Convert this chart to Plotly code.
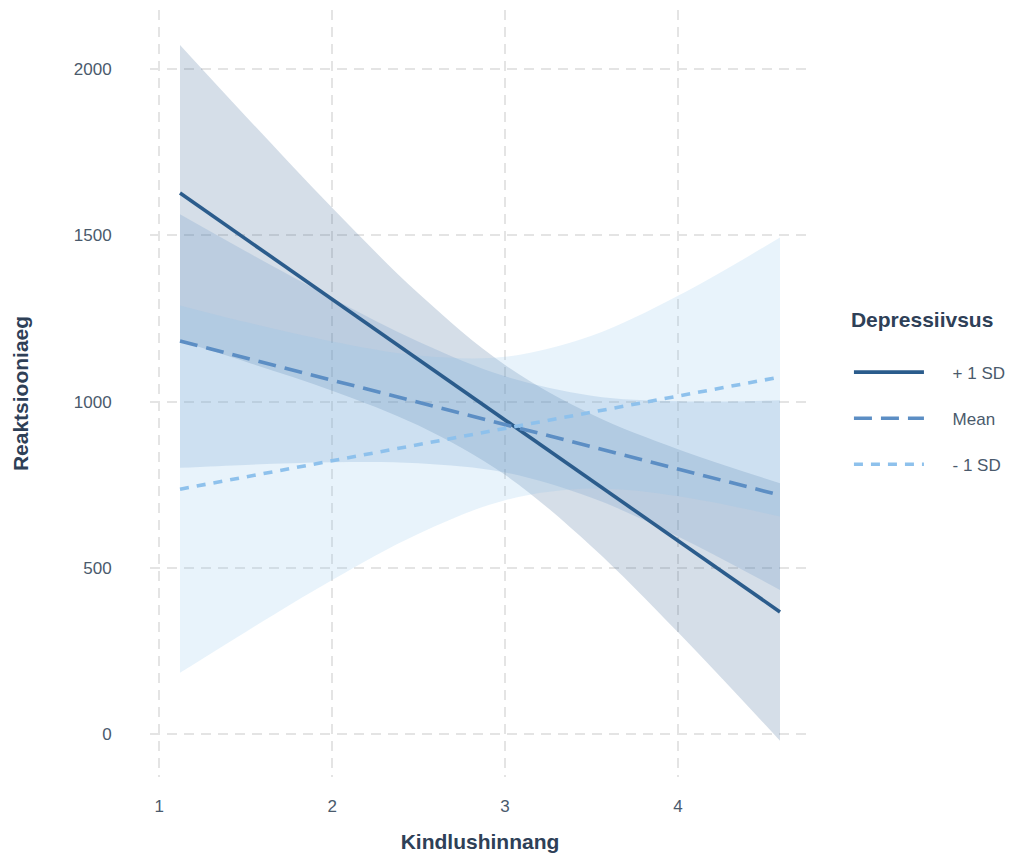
import plotly.graph_objects as go

# Data
x_vals = [1.12, 1.5, 2.0, 2.5, 3.0, 3.5, 4.0, 4.59]

plus_fit = [1627, 1489, 1308, 1126, 945, 764, 582, 368]
plus_lo = [1182, 1120, 1033, 928, 780, 565, 307, -19]
plus_hi = [2072, 1858, 1583, 1325, 1110, 962, 857, 755]

mean_fit = [1182, 1131, 1065, 998, 931, 865, 798, 719]
mean_lo = [801, 810, 818, 815, 787, 711, 595, 434]
mean_hi = [1563, 1452, 1311, 1180, 1076, 1018, 1001, 1004]

minus_fit = [737, 774, 823, 871, 920, 968, 1017, 1074]
minus_lo = [185, 308, 464, 603, 704, 739, 716, 655]
minus_hi = [1289, 1239, 1181, 1139, 1135, 1198, 1318, 1493]

series_names = ["+ 1 SD", "Mean", "- 1 SD"]
x_ticks = [1, 2, 3, 4]
y_ticks = [0, 500, 1000, 1500, 2000]

colors = ["#2B5C8C", "#5C8EC4", "#8EC1EC"]
fills = ["rgba(43,92,140,0.2)", "rgba(92,142,196,0.2)", "rgba(142,193,236,0.2)"]
dashes = ["solid", "18px,9px", "9px,8px"]

fits = [plus_fit, mean_fit, minus_fit]
los = [plus_lo, mean_lo, minus_lo]
his = [plus_hi, mean_hi, minus_hi]

FONT = "Liberation Sans, Arial, sans-serif"
TICK_C = "#4A5A6C"
TITLE_C = "#2E4057"
PAD = "\u00a0" * 5

fig = go.Figure()

for i in range(3):
    fig.add_trace(go.Scatter(
        x=x_vals, y=los[i], mode="lines",
        line=dict(width=0, shape="spline", color=fills[i]),
        showlegend=False, hoverinfo="skip"))
    fig.add_trace(go.Scatter(
        x=x_vals, y=his[i], mode="lines", fill="tonexty",
        fillcolor=fills[i],
        line=dict(width=0, shape="spline", color=fills[i]),
        showlegend=False, hoverinfo="skip"))

for i in range(3):
    fig.add_trace(go.Scatter(
        x=x_vals, y=fits[i], mode="lines", name=PAD + series_names[i],
        legendgroup=series_names[i],
        line=dict(color=colors[i], width=3.6, dash=dashes[i])))

fig.update_layout(
    width=1007, height=848,
    margin=dict(l=142, r=205, t=2, b=79),
    plot_bgcolor="white", paper_bgcolor="white",
    font=dict(family=FONT, color=TICK_C, size=17),
    showlegend=True,
    legend=dict(
        x=1.059, xanchor="left", y=0.622, yanchor="top",
        title=dict(text="<b>Depressiivsus</b><br> ",
                   font=dict(size=21, color=TITLE_C, family=FONT)),
        font=dict(size=17, color=TICK_C, family=FONT),
        tracegroupgap=21, itemwidth=70,
        bgcolor="rgba(0,0,0,0)"),
)

fig.update_xaxes(
    range=[0.9465, 4.7635], tickvals=x_ticks,
    ticks="outside", ticklen=14, tickcolor="rgba(0,0,0,0)",
    tickfont=dict(size=17, color=TICK_C),
    showgrid=True, gridcolor="#E4E4E4", gridwidth=1.6, griddash="10px,7px",
    zeroline=False, showline=False,
    title=dict(text="<b>Kindlushinnang</b>", standoff=18,
               font=dict(size=21, color=TITLE_C)))

fig.update_yaxes(
    range=[-128, 2177], tickvals=y_ticks,
    ticks="outside", ticklen=34, tickcolor="rgba(0,0,0,0)",
    tickfont=dict(size=17, color=TICK_C),
    showgrid=True, gridcolor="#E4E4E4", gridwidth=1.6, griddash="10px,7px",
    zeroline=False, showline=False,
    title=dict(text="<b>Reaktsiooniaeg</b>", standoff=39,
               font=dict(size=21, color=TITLE_C)))

fig.write_html("out.html")
